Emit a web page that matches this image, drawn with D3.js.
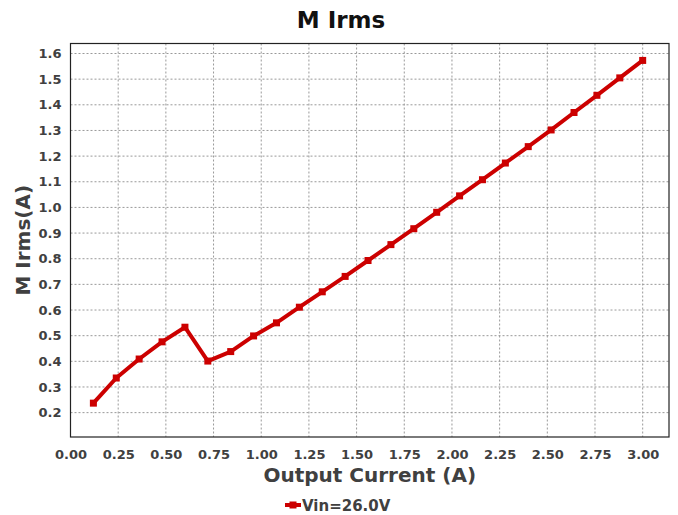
<!DOCTYPE html>
<html>
<head>
<meta charset="utf-8">
<script src="https://cdn.jsdelivr.net/npm/d3@7"></script>
<style>
  body { margin: 0; background: #fff; }
  svg text { font-family: "DejaVu Sans", sans-serif; font-weight: bold; fill: #404040; }
  .grid line { stroke: #999; stroke-dasharray: 2,2; stroke-width: 1; }
</style>
</head>
<body>
<div id="chart"></div>
<script>
var current = [0.12, 0.24, 0.36, 0.48, 0.60, 0.72, 0.84, 0.96, 1.08, 1.20, 1.32, 1.44, 1.56,
  1.68, 1.80, 1.92, 2.04, 2.16, 2.28, 2.40, 2.52, 2.64, 2.76, 2.88, 3.00];
var irms = [0.237, 0.335, 0.409, 0.476, 0.533, 0.401, 0.438, 0.499, 0.550, 0.611, 0.671, 0.731,
  0.793, 0.855, 0.917, 0.981, 1.045, 1.108, 1.173, 1.237, 1.302, 1.370, 1.437, 1.505, 1.573];
var xTicks = [0, 0.25, 0.5, 0.75, 1, 1.25, 1.5, 1.75, 2, 2.25, 2.5, 2.75, 3];
var yTicks = [0.2, 0.3, 0.4, 0.5, 0.6, 0.7, 0.8, 0.9, 1.0, 1.1, 1.2, 1.3, 1.4, 1.5, 1.6];
var seriesName = "Vin=26.0V";

var margin = { top: 43.5, right: 9, bottom: 78, left: 70.5 };
var width = 678 - margin.left - margin.right;
var height = 515 - margin.top - margin.bottom;

var svg = d3.select("#chart").append("svg")
  .attr("width", 678)
  .attr("height", 515);

var g = svg.append("g")
  .attr("transform", "translate(" + margin.left + "," + margin.top + ")");

var x = d3.scaleLinear().domain([0, 3.138]).range([0, width]);
var y = d3.scaleLinear().domain([0.105, 1.639]).range([height, 0]);

// grid
g.append("g").attr("class", "grid")
  .selectAll("line").data(xTicks.slice(1)).enter().append("line")
  .attr("x1", function(d){ return x(d); }).attr("x2", function(d){ return x(d); })
  .attr("y1", 0).attr("y2", height);

g.append("g").attr("class", "grid")
  .selectAll("line").data(yTicks).enter().append("line")
  .attr("y1", function(d){ return y(d); }).attr("y2", function(d){ return y(d); })
  .attr("x1", 0).attr("x2", width);

// axes
var xAxis = g.append("g")
  .attr("transform", "translate(0," + height + ")")
  .call(d3.axisBottom(x).tickValues(xTicks).tickFormat(d3.format(".2f")).tickSize(0).tickPadding(13));
var yAxis = g.append("g")
  .call(d3.axisLeft(y).tickValues(yTicks).tickFormat(d3.format(".1f")).tickSize(0).tickPadding(9));
[xAxis, yAxis].forEach(function(a){
  a.select(".domain").remove();
  a.selectAll("text").style("font-size", "13px");
});

g.append("rect")
  .attr("width", width).attr("height", height)
  .attr("fill", "none").attr("stroke", "#222").attr("stroke-width", 1.2);

// line
var pts = current.map(function(d, i){ return { x: d, y: irms[i] }; });
g.append("path")
  .datum(pts)
  .attr("fill", "none")
  .attr("stroke", "#cc0000")
  .attr("stroke-width", 4)
  .attr("stroke-linejoin", "round")
  .attr("d", d3.line().x(function(d){ return x(d.x); }).y(function(d){ return y(d.y); }));

g.selectAll(".pt").data(pts).enter().append("rect")
  .attr("class", "pt")
  .attr("x", function(d){ return x(d.x) - 3.5; })
  .attr("y", function(d){ return y(d.y) - 3.5; })
  .attr("width", 7).attr("height", 7)
  .attr("fill", "#cc0000");

// labels
svg.append("text")
  .attr("text-anchor", "middle")
  .attr("x", 341).attr("y", 28)
  .style("font-size", "23px").style("fill", "#111")
  .text("M Irms");

svg.append("text")
  .attr("text-anchor", "middle")
  .attr("x", margin.left + width / 2).attr("y", 482)
  .style("font-size", "20px")
  .text("Output Current (A)");

svg.append("text")
  .attr("text-anchor", "middle")
  .attr("transform", "translate(30," + (margin.top + height / 2) + ")rotate(-90)")
  .style("font-size", "20px")
  .text("M Irms(A)");

// legend
var lg = svg.append("g").attr("transform", "translate(285,505)");
lg.append("line").attr("x1", 0).attr("x2", 16).attr("y1", 0).attr("y2", 0)
  .attr("stroke", "#cc0000").attr("stroke-width", 4);
lg.append("rect").attr("x", 4.5).attr("y", -3.5).attr("width", 7).attr("height", 7).attr("fill", "#cc0000");
lg.append("text").attr("x", 17).attr("y", 5.5).style("font-size", "15px").text(seriesName);
</script>
</body>
</html>
